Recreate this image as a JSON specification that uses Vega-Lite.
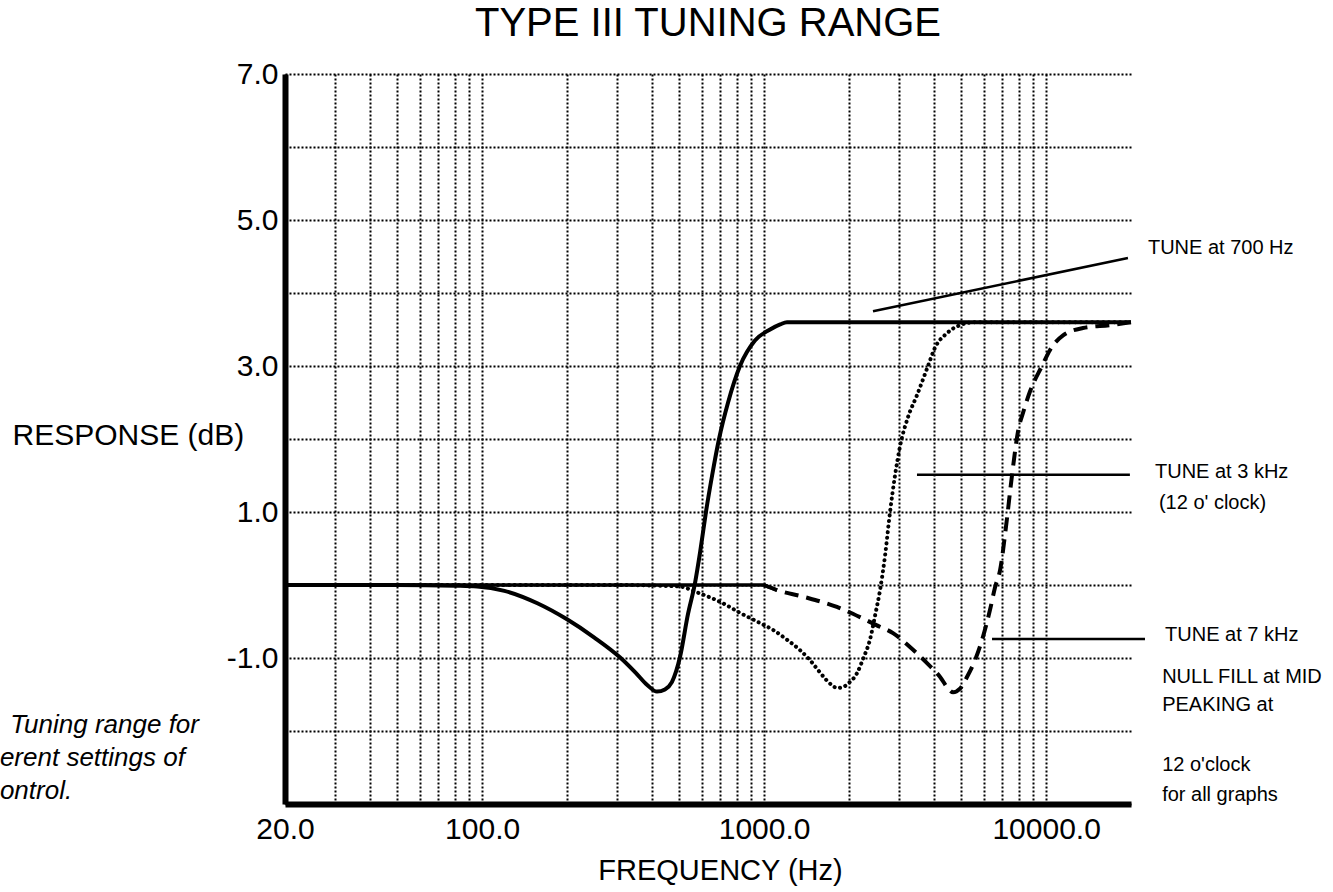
{
  "$schema": "https://vega.github.io/schema/vega-lite/v6.json",
  "width": 846,
  "height": 730,
  "autosize": {"type": "none"},
  "padding": {"left": 285, "top": 74, "right": 202, "bottom": 88},
  "background": "white",
  "config": {"view": {"stroke": null}, "font": "Liberation Sans"},
  "title": {"text": "TYPE III TUNING RANGE", "fontSize": 40, "fontWeight": "normal", "font": "Liberation Sans", "color": "black", "anchor": "middle", "dx": 0, "offset": 15},
  "datasets": {
    "tune700": [
      {"freq": 20, "db": 0}, {"freq": 50, "db": 0}, {"freq": 80, "db": -0.01}, {"freq": 96, "db": -0.02},
      {"freq": 120, "db": -0.08}, {"freq": 157, "db": -0.25}, {"freq": 200, "db": -0.47}, {"freq": 250, "db": -0.72},
      {"freq": 308, "db": -0.99}, {"freq": 350, "db": -1.2}, {"freq": 385, "db": -1.37}, {"freq": 417, "db": -1.46},
      {"freq": 445, "db": -1.43}, {"freq": 471, "db": -1.33}, {"freq": 503, "db": -0.99}, {"freq": 537, "db": -0.4},
      {"freq": 569, "db": 0.03}, {"freq": 593, "db": 0.45}, {"freq": 622, "db": 1.0}, {"freq": 654, "db": 1.5},
      {"freq": 692, "db": 2.0}, {"freq": 745, "db": 2.5}, {"freq": 821, "db": 3.0}, {"freq": 928, "db": 3.35},
      {"freq": 1050, "db": 3.5}, {"freq": 1140, "db": 3.57}, {"freq": 1205, "db": 3.6}, {"freq": 20000, "db": 3.6}
    ],
    "tune3k": [
      {"freq": 20, "db": 0}, {"freq": 300, "db": 0}, {"freq": 500, "db": -0.02}, {"freq": 578, "db": -0.1},
      {"freq": 714, "db": -0.25}, {"freq": 820, "db": -0.38}, {"freq": 944, "db": -0.5}, {"freq": 1080, "db": -0.62},
      {"freq": 1206, "db": -0.75}, {"freq": 1330, "db": -0.88}, {"freq": 1455, "db": -1.03}, {"freq": 1580, "db": -1.2},
      {"freq": 1671, "db": -1.31}, {"freq": 1750, "db": -1.38}, {"freq": 1812, "db": -1.41}, {"freq": 1900, "db": -1.4},
      {"freq": 2000, "db": -1.34}, {"freq": 2134, "db": -1.21}, {"freq": 2250, "db": -1.0}, {"freq": 2373, "db": -0.75},
      {"freq": 2480, "db": -0.4}, {"freq": 2577, "db": -0.07}, {"freq": 2684, "db": 0.4}, {"freq": 2796, "db": 1.0},
      {"freq": 2912, "db": 1.5}, {"freq": 3034, "db": 1.9}, {"freq": 3238, "db": 2.3}, {"freq": 3484, "db": 2.6},
      {"freq": 3812, "db": 3.0}, {"freq": 4036, "db": 3.25}, {"freq": 4452, "db": 3.45}, {"freq": 4950, "db": 3.56},
      {"freq": 5598, "db": 3.6}, {"freq": 20000, "db": 3.6}
    ],
    "tune7k": [
      {"freq": 20, "db": 0}, {"freq": 1000, "db": 0}, {"freq": 1111, "db": -0.07}, {"freq": 1374, "db": -0.16},
      {"freq": 1812, "db": -0.3}, {"freq": 2188, "db": -0.44}, {"freq": 2500, "db": -0.55}, {"freq": 2865, "db": -0.66},
      {"freq": 3290, "db": -0.85}, {"freq": 3782, "db": -1.07}, {"freq": 4208, "db": -1.26}, {"freq": 4500, "db": -1.42},
      {"freq": 4677, "db": -1.47}, {"freq": 4950, "db": -1.42}, {"freq": 5241, "db": -1.26}, {"freq": 5594, "db": -1.03},
      {"freq": 5972, "db": -0.71}, {"freq": 6325, "db": -0.34}, {"freq": 6592, "db": -0.03}, {"freq": 6864, "db": 0.2},
      {"freq": 7208, "db": 0.8}, {"freq": 7568, "db": 1.5}, {"freq": 7948, "db": 2.1}, {"freq": 8347, "db": 2.4},
      {"freq": 8766, "db": 2.65}, {"freq": 9668, "db": 3.0}, {"freq": 10324, "db": 3.22}, {"freq": 11484, "db": 3.42},
      {"freq": 13512, "db": 3.52}, {"freq": 16848, "db": 3.56}, {"freq": 20000, "db": 3.6}
    ],
    "pointers": [
      {"id": "p700", "freq": 2433, "db": 3.75}, {"id": "p700", "freq": 19510, "db": 4.48},
      {"id": "p3k", "freq": 3484, "db": 1.51}, {"id": "p3k", "freq": 19820, "db": 1.51},
      {"id": "p7k", "freq": 6430, "db": -0.74}, {"id": "p7k", "freq": 22420, "db": -0.74}
    ],
    "notes": [
      {"freq": 22970, "db": 4.62, "label": "TUNE at 700 Hz"},
      {"freq": 24330, "db": 1.55, "label": "TUNE at 3 kHz"},
      {"freq": 25120, "db": 1.12, "label": "(12 o' clock)"},
      {"freq": 26420, "db": -0.68, "label": "TUNE at 7 kHz"},
      {"freq": 25790, "db": -1.26, "label": "NULL FILL at MID"},
      {"freq": 25790, "db": -1.64, "label": "PEAKING at"},
      {"freq": 25790, "db": -2.47, "label": "12 o'clock"},
      {"freq": 25790, "db": -2.88, "label": "for all graphs"}
    ],
    "caption": [
      {"freq": 2.12, "db": -1.92, "label": "Tuning range for"},
      {"freq": 1.95, "db": -2.37, "label": "erent settings of"},
      {"freq": 1.95, "db": -2.82, "label": "ontrol."}
    ]
  },
  "encoding": {
    "x": {
      "field": "freq", "type": "quantitative",
      "scale": {"type": "log", "domain": [20, 20000], "nice": false},
      "title": "FREQUENCY (Hz)",
      "axis": {
        "values": [20, 30, 40, 50, 60, 70, 80, 90, 100, 200, 300, 400, 500, 600, 700, 800, 900, 1000, 2000, 3000, 4000, 5000, 6000, 7000, 8000, 9000, 10000],
        "labelExpr": "indexof([20, 100, 1000, 10000], datum.value) >= 0 ? format(datum.value, '.1f') : ''",
        "ticks": false, "grid": true, "gridColor": "black", "gridDash": [2, 2], "gridWidth": 2, "gridOpacity": 1,
        "domainColor": "black", "domainWidth": 6,
        "labelFontSize": 30, "labelColor": "black", "labelPadding": 10, "labelFlush": false, "labelOverlap": false, "labelBound": false,
        "titleFontSize": 29, "titleFontWeight": "normal", "titleColor": "black", "titleX": 435, "titleY": 66, "titleAlign": "center", "titleBaseline": "middle"
      }
    },
    "y": {
      "field": "db", "type": "quantitative",
      "scale": {"domain": [-3, 7], "nice": false, "zero": false},
      "title": "RESPONSE (dB)",
      "axis": {
        "values": [-3, -2, -1, 0, 1, 2, 3, 4, 5, 6, 7],
        "labelExpr": "(datum.value == 7 || datum.value == 5 || datum.value == 3 || datum.value == 1) ? format(datum.value, '.1f') : (datum.value == -1 ? '-1.0' : '')",
        "ticks": false, "grid": true, "gridColor": "black", "gridDash": [2, 2], "gridWidth": 2, "gridOpacity": 1,
        "domainColor": "black", "domainWidth": 6,
        "labelFontSize": 30, "labelColor": "black", "labelPadding": 7, "labelFlush": false, "labelOverlap": false, "labelBound": false,
        "titleFontSize": 30, "titleFontWeight": "normal", "titleColor": "black", "titleAngle": 0, "titleAlign": "left", "titleBaseline": "middle", "titleX": -273, "titleY": 361
      }
    }
  },
  "layer": [
    {"data": {"name": "tune7k"}, "transform": [{"filter": "datum.freq >= 1000"}], "mark": {"type": "line", "color": "black", "strokeWidth": 4, "strokeDash": [14, 8], "interpolate": "monotone"}},
    {"data": {"name": "tune7k"}, "transform": [{"filter": "datum.freq <= 1111"}], "mark": {"type": "line", "color": "black", "strokeWidth": 3.5}},
    {"data": {"name": "tune3k"}, "mark": {"type": "line", "color": "black", "strokeWidth": 4, "strokeDash": [0.1, 5.5], "strokeCap": "round", "interpolate": "monotone"}},
    {"data": {"name": "tune700"}, "mark": {"type": "line", "color": "black", "strokeWidth": 4, "interpolate": "monotone"}},
    {"data": {"name": "pointers"}, "mark": {"type": "line", "color": "black", "strokeWidth": 2.5}, "encoding": {"detail": {"field": "id", "type": "nominal"}}},
    {"data": {"name": "notes"}, "mark": {"type": "text", "align": "left", "baseline": "middle", "fontSize": 20, "font": "Liberation Sans", "color": "black"}, "encoding": {"text": {"field": "label", "type": "nominal"}}},
    {"data": {"name": "caption"}, "mark": {"type": "text", "align": "left", "baseline": "middle", "fontSize": 26, "fontStyle": "italic", "font": "Liberation Sans", "color": "black"}, "encoding": {"text": {"field": "label", "type": "nominal"}}}
  ]
}
